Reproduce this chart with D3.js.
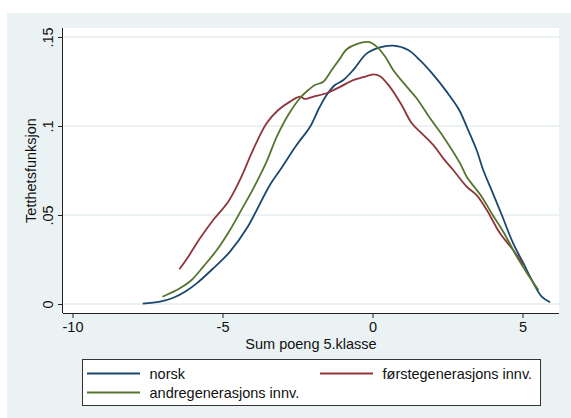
<!DOCTYPE html>
<html>
<head>
<meta charset="utf-8">
<script src="https://cdn.jsdelivr.net/npm/d3@7"></script>
<style>
  html, body { margin: 0; padding: 0; background: #ffffff; }
  svg { display: block; font-family: "Liberation Sans", Arial, sans-serif; }
</style>
</head>
<body>
<svg id="chart" width="571" height="418"></svg>
<script>
// Kernel density estimates of "Sum poeng 5.klasse" by group
const norskX = [-7.66, -7.08, -6.64, -6.25, -5.86, -5.31, -4.75, -4.19, -3.42, -3.08, -2.53, -2.08, -1.81, -1.53, -1.25, -0.97, -0.64, -0.19, 0.25, 0.69, 1.19, 1.58, 2.03, 2.47, 2.89, 3.14, 3.47, 3.69, 3.97, 4.31, 4.69, 5.03, 5.31, 5.64, 5.92];
const norskY = [0.0002, 0.0013, 0.0035, 0.0069, 0.0116, 0.0200, 0.0294, 0.0425, 0.0669, 0.0753, 0.0893, 0.0996, 0.1090, 0.1174, 0.1230, 0.1258, 0.1315, 0.1408, 0.1442, 0.1451, 0.1427, 0.1370, 0.1287, 0.1193, 0.1090, 0.0996, 0.0865, 0.0753, 0.0640, 0.0500, 0.0340, 0.0229, 0.0135, 0.0041, 0.0010];

const forsteX = [-6.44, -6.14, -5.75, -5.31, -4.81, -4.42, -3.97, -3.53, -3.14, -2.75, -2.42, -2.25, -1.97, -1.53, -1.08, -0.64, -0.31, 0.03, 0.25, 0.58, 0.97, 1.31, 1.64, 2.03, 2.36, 2.69, 3.14, 3.47, 3.81, 4.25, 4.69, 5.03];
const forsteY = [0.0195, 0.0266, 0.0369, 0.0472, 0.0575, 0.0697, 0.0870, 0.1015, 0.1090, 0.1137, 0.1165, 0.1152, 0.1165, 0.1184, 0.1220, 0.1258, 0.1274, 0.1290, 0.1280, 0.1220, 0.1118, 0.1015, 0.0959, 0.0893, 0.0818, 0.0753, 0.0659, 0.0612, 0.0528, 0.0397, 0.0303, 0.0219];

const andreX = [-7.00, -6.42, -6.03, -5.64, -5.19, -4.75, -4.31, -3.97, -3.53, -3.19, -2.81, -2.42, -2.14, -1.92, -1.64, -1.36, -1.08, -0.86, -0.53, -0.14, 0.14, 0.42, 0.69, 1.14, 1.47, 1.92, 2.36, 2.92, 3.14, 3.64, 3.97, 4.36, 4.81, 5.19, 5.53];
const andreY = [0.0041, 0.0088, 0.0135, 0.0210, 0.0303, 0.0416, 0.0547, 0.0650, 0.0800, 0.0940, 0.1062, 0.1156, 0.1202, 0.1230, 0.1249, 0.1315, 0.1380, 0.1431, 0.1460, 0.1472, 0.1446, 0.1390, 0.1315, 0.1221, 0.1156, 0.1043, 0.0940, 0.0790, 0.0715, 0.0603, 0.0510, 0.0406, 0.0266, 0.0163, 0.0079];

const xTicks = [-10, -5, 0, 5];
const yTicks = [0, 0.05, 0.1, 0.15];
const yTickLabels = ["0", ".05", ".1", ".15"];

const seriesNames = ["norsk", "førstegenerasjons innv.", "andregenerasjons innv."];
const seriesColors = ["#1a476f", "#90353b", "#55752f"];

const series = [
  { name: seriesNames[0], color: seriesColors[0], pts: d3.zip(norskX, norskY) },
  { name: seriesNames[1], color: seriesColors[1], pts: d3.zip(forsteX, forsteY) },
  { name: seriesNames[2], color: seriesColors[2], pts: d3.zip(andreX, andreY) }
];

const svg = d3.select("#chart");
const W = 571, H = 418;
const fs = 14.5;

// graph region background
svg.append("rect").attr("x", 7).attr("y", 13).attr("width", W - 7).attr("height", H - 13)
  .attr("fill", "#eaf2f3");

// plot region
const plot = { left: 63, right: 559, top: 28, bottom: 313 };
svg.append("rect").attr("x", plot.left).attr("y", plot.top)
  .attr("width", plot.right - plot.left).attr("height", plot.bottom - plot.top)
  .attr("fill", "#ffffff");

const x = d3.scaleLinear().domain([-10, 5]).range([72.5, 522.5]);
const y = d3.scaleLinear().domain([0, 0.15]).range([304, 37]);

// horizontal gridlines
svg.append("g").selectAll("line").data(yTicks).join("line")
  .attr("x1", plot.left).attr("x2", plot.right)
  .attr("y1", d => y(d)).attr("y2", d => y(d))
  .attr("stroke", "#e6eeef").attr("stroke-width", 1.5);

// density curves
const line = d3.line().x(d => x(d[0])).y(d => y(d[1])).curve(d3.curveCatmullRom.alpha(0.5));
svg.append("g").selectAll("path").data(series).join("path")
  .attr("d", d => line(d.pts))
  .attr("fill", "none")
  .attr("stroke", d => d.color)
  .attr("stroke-width", 1.8)
  .attr("stroke-linejoin", "round");

// x axis
const xAxis = d3.axisBottom(x).tickValues(xTicks).tickSize(5).tickPadding(4).tickSizeOuter(0);
const gx = svg.append("g").attr("transform", `translate(0,${plot.bottom})`).call(xAxis);
gx.select(".domain").attr("d", `M${plot.left},0.5H${plot.right}`).attr("stroke", "#222");
gx.selectAll(".tick line").attr("stroke", "#222");
gx.selectAll(".tick text").attr("font-size", fs).attr("font-family", "Liberation Sans, Arial, sans-serif")
  .attr("fill", "#111").text(d => d < 0 ? "-" + Math.abs(d) : d);

// y axis
const yAxis = d3.axisLeft(y).tickValues(yTicks).tickSize(5).tickSizeOuter(0)
  .tickFormat((d, i) => yTickLabels[i]);
const gy = svg.append("g").attr("transform", `translate(${plot.left},0)`).call(yAxis);
gy.select(".domain").attr("d", `M-0.5,${plot.top}V${plot.bottom}`).attr("stroke", "#222");
gy.selectAll(".tick line").attr("stroke", "#222");
gy.selectAll(".tick text")
  .attr("font-size", fs).attr("font-family", "Liberation Sans, Arial, sans-serif").attr("fill", "#111")
  .attr("x", null).attr("dy", null)
  .attr("text-anchor", "middle")
  .attr("transform", "translate(-10.5,0) rotate(-90)");

// axis titles
svg.append("text").attr("x", (plot.left + plot.right) / 2).attr("y", 348.5)
  .attr("text-anchor", "middle").attr("font-size", fs).attr("fill", "#111")
  .text("Sum poeng 5.klasse");
svg.append("text")
  .attr("transform", `translate(35.5,${(plot.top + plot.bottom) / 2}) rotate(-90)`)
  .attr("text-anchor", "middle").attr("font-size", fs).attr("fill", "#111")
  .text("Tetthetsfunksjon");

// legend
const lg = svg.append("g");
lg.append("rect").attr("x", 82.5).attr("y", 359.5).attr("width", 458).attr("height", 46)
  .attr("fill", "#ffffff").attr("stroke", "#333").attr("stroke-width", 1);
const legendPos = [
  { lx: 87, ly: 373.5 },
  { lx: 320, ly: 373.5 },
  { lx: 87, ly: 392.5 }
];
series.forEach((s, i) => {
  const p = legendPos[i];
  lg.append("line").attr("x1", p.lx).attr("x2", p.lx + 53).attr("y1", p.ly).attr("y2", p.ly)
    .attr("stroke", s.color).attr("stroke-width", 1.8);
  lg.append("text").attr("x", p.lx + 62.5).attr("y", p.ly).attr("dy", "0.35em")
    .attr("font-size", fs).attr("fill", "#111").text(s.name);
});
</script>
</body>
</html>
